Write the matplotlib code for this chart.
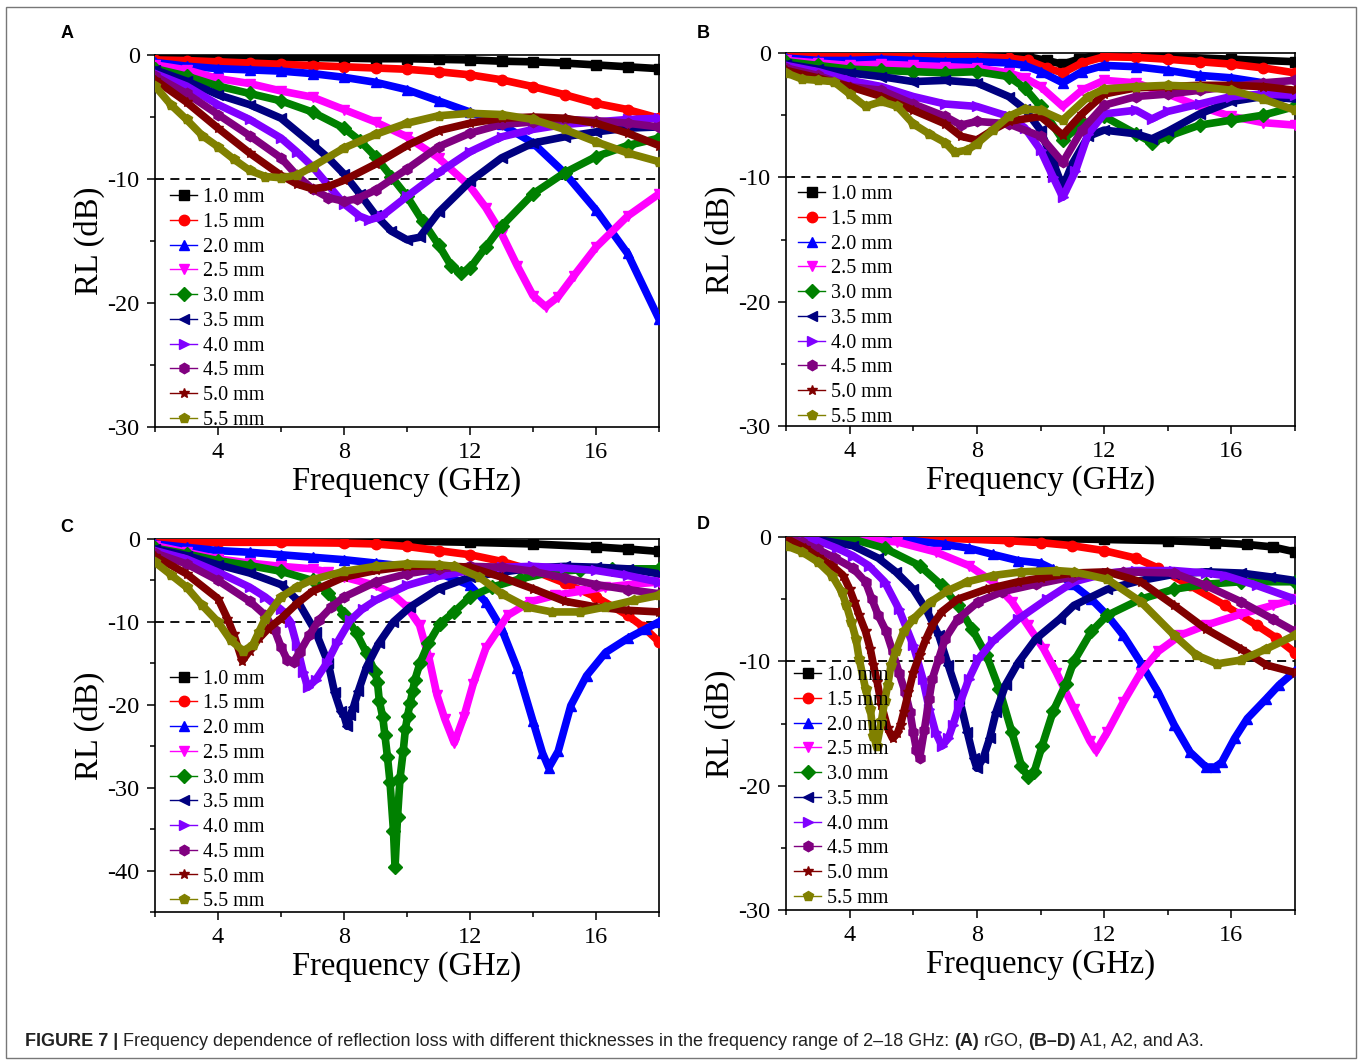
import matplotlib
matplotlib.use("Agg")
import matplotlib.pyplot as plt
from matplotlib.lines import Line2D
from matplotlib.patches import Rectangle

# thickness labels (same for every panel)
thickness = ["1.0 mm", "1.5 mm", "2.0 mm", "2.5 mm", "3.0 mm",
             "3.5 mm", "4.0 mm", "4.5 mm", "5.0 mm", "5.5 mm"]

# (frequency in GHz, RL in dB), one list per thickness
rgo = [
    [(2, -0.1), (3, -0.1), (4, -0.15), (5, -0.2), (6, -0.2), (7, -0.2), (8, -0.25), (9, -0.3), (10, -0.3),
     (11, -0.35), (12, -0.4), (13, -0.5), (14, -0.55), (15, -0.65), (16, -0.8), (17, -0.95), (18, -1.1)],
    [(2, -0.4), (3, -0.45), (4, -0.55), (5, -0.65), (6, -0.75), (7, -0.85), (8, -0.95), (9, -1.05), (10, -1.15),
     (11, -1.35), (12, -1.6), (13, -2.0), (14, -2.55), (15, -3.2), (16, -3.9), (17, -4.4), (18, -5.1)],
    [(2, -0.6), (3, -0.9), (4, -1.1), (5, -1.2), (6, -1.3), (7, -1.5), (8, -1.8), (9, -2.2), (10, -2.8),
     (11, -3.7), (12, -4.6), (13, -5.6), (14, -7.1), (15, -9.5), (16, -12.5), (17, -16.0), (18, -21.3)],
    [(2, -0.8), (3, -1.2), (4, -1.9), (5, -2.3), (6, -2.9), (7, -3.4), (8, -4.4), (9, -5.4), (10, -6.6),
     (11, -8.3), (12, -10.6), (12.5, -12.3), (13, -14.4), (13.5, -17.0), (14, -19.4), (14.4, -20.3),
     (14.8, -19.5), (15.3, -17.8), (16, -15.5), (17, -13.0), (18, -11.2)],
    [(2, -1.1), (3, -1.7), (4, -2.5), (5, -3.1), (6, -3.7), (7, -4.6), (8, -5.9), (8.5, -6.9), (9, -8.2),
     (9.5, -9.8), (10, -11.4), (10.5, -13.4), (11, -15.3), (11.4, -17.0), (11.7, -17.6), (12, -17.2),
     (12.5, -15.5), (13, -13.8), (14, -11.2), (15, -9.5), (16, -8.2), (17, -7.3), (18, -6.7)],
    [(2, -1.2), (3, -2.1), (4, -3.2), (5, -4.0), (6, -5.1), (7, -7.2), (7.5, -8.3), (8, -9.6), (8.5, -11.2),
     (9, -12.9), (9.5, -14.2), (10, -14.9), (10.4, -14.7), (11, -12.7), (12, -10.2), (13, -8.3), (14, -7.1),
     (15, -6.6), (16, -6.2), (17, -5.9), (18, -5.8)],
    [(2, -1.5), (3, -2.5), (4, -4.0), (5, -5.2), (6, -6.7), (6.5, -7.8), (7, -9.0), (7.5, -10.5), (8, -12.0),
     (8.5, -13.0), (8.8, -13.3), (9.2, -13.0), (10, -11.4), (11, -9.5), (12, -7.8), (13, -6.6), (14, -6.0),
     (15, -5.6), (16, -5.4), (17, -5.2), (18, -5.1)],
    [(2, -1.7), (3, -3.1), (4, -4.8), (5, -6.5), (6, -8.3), (6.5, -9.7), (7, -10.8), (7.5, -11.5), (8, -11.8),
     (8.4, -11.6), (9, -10.9), (10, -9.2), (11, -7.4), (12, -6.3), (13, -5.6), (14, -5.4), (15, -5.2),
     (16, -5.3), (17, -5.5), (18, -5.8)],
    [(2, -2.0), (3, -3.8), (4, -5.9), (5, -7.9), (6, -9.7), (6.5, -10.4), (7, -10.8), (7.5, -10.6), (8, -10.1),
     (9, -8.8), (10, -7.3), (11, -6.1), (12, -5.5), (13, -5.1), (14, -5.0), (15, -5.1), (16, -5.5), (17, -6.3),
     (18, -7.3)],
    [(2, -2.5), (2.5, -4.0), (3, -5.2), (3.5, -6.5), (4, -7.4), (4.5, -8.4), (5, -9.3), (5.5, -9.8), (6, -9.9),
     (6.5, -9.7), (7, -9.0), (8, -7.5), (9, -6.4), (10, -5.5), (11, -4.9), (12, -4.7), (13, -4.8), (14, -5.2),
     (15, -6.0), (16, -7.0), (17, -7.9), (18, -8.6)],
]

a1 = [
    [(2, -0.1), (4, -0.1), (6, -0.1), (8, -0.15), (9, -0.2), (9.6, -0.3), (10.2, -0.6), (10.7, -0.9),
     (11.2, -0.5), (11.8, -0.15), (13, -0.2), (14, -0.3), (16, -0.5), (18, -0.7)],
    [(2, -0.3), (4, -0.3), (6, -0.25), (8, -0.3), (9, -0.4), (9.6, -0.6), (10.2, -1.2), (10.7, -1.6),
     (11.3, -0.8), (12, -0.3), (13, -0.35), (14, -0.5), (15, -0.7), (16, -0.9), (17, -1.2), (18, -1.6)],
    [(2, -0.4), (3, -0.6), (4, -0.6), (5, -0.5), (6, -0.6), (7, -0.7), (8, -0.7), (9, -0.8), (9.5, -1.0),
     (10, -1.5), (10.7, -2.4), (11.3, -1.5), (12, -1.0), (13, -1.1), (14, -1.4), (15, -1.8), (16, -2.0),
     (17, -2.4), (18, -3.2)],
    [(2, -0.6), (3, -0.8), (4, -1.0), (5, -0.9), (6, -1.0), (7, -1.1), (8, -1.2), (9, -1.6), (9.5, -2.0),
     (10, -2.7), (10.7, -4.3), (11.3, -3.0), (12, -2.2), (13, -2.4), (14, -3.3), (15, -4.3), (16, -5.1),
     (17, -5.6), (18, -5.8)],
    [(2, -0.7), (3, -1.0), (4, -1.3), (5, -1.4), (6, -1.5), (7, -1.6), (8, -1.5), (9, -1.9), (9.5, -2.8),
     (10, -4.3), (10.7, -7.0), (11.3, -5.7), (12, -5.1), (13, -6.5), (13.5, -7.2), (14, -6.7), (15, -5.8),
     (16, -5.4), (17, -5.0), (18, -4.3)],
    [(2, -0.9), (3, -1.3), (4, -1.6), (5, -1.9), (6, -2.3), (7, -2.2), (8, -2.4), (9, -3.5), (9.5, -4.5),
     (10, -6.2), (10.4, -8.8), (10.7, -10.8), (11, -8.9), (11.5, -6.7), (12, -6.2), (13, -6.5), (13.5, -6.9),
     (14, -6.3), (15, -4.9), (16, -3.9), (17, -3.5), (18, -3.7)],
    [(2, -1.0), (3, -1.5), (4, -2.2), (5, -2.7), (6, -3.5), (7, -4.1), (8, -4.3), (9, -5.1), (9.5, -6.0),
     (10, -7.8), (10.4, -10.0), (10.7, -11.6), (11.1, -9.5), (11.5, -6.5), (12, -4.9), (13, -4.6),
     (13.5, -5.3), (14, -4.7), (15, -4.1), (16, -3.5), (17, -3.3), (18, -3.4)],
    [(2, -1.2), (3, -1.8), (4, -2.7), (5, -3.0), (6, -4.1), (7, -5.1), (7.5, -5.8), (8, -5.5), (9, -5.7),
     (10, -6.7), (10.7, -8.8), (11.3, -6.2), (12, -4.2), (13, -3.5), (14, -3.3), (15, -3.0), (16, -2.7),
     (17, -2.4), (18, -2.2)],
    [(2, -1.4), (3, -2.0), (4, -2.7), (5, -3.5), (6, -4.6), (7, -5.7), (7.5, -6.7), (8, -7.0), (8.5, -6.2),
     (9, -5.5), (10, -5.1), (10.7, -6.6), (11.3, -4.9), (12, -3.3), (13, -2.8), (14, -2.7), (15, -2.6),
     (16, -2.6), (17, -2.7), (18, -3.0)],
    [(2, -1.6), (2.5, -2.1), (3, -2.2), (3.5, -2.3), (4, -3.3), (4.5, -4.3), (5, -3.9), (5.5, -4.3), (6, -5.7),
     (6.5, -6.5), (7, -7.2), (7.3, -8.0), (7.7, -7.8), (8, -7.3), (8.5, -6.2), (9, -5.1), (9.5, -4.5),
     (10, -4.6), (10.7, -5.4), (11.5, -3.5), (12, -2.9), (13, -2.7), (14, -2.6), (15, -2.7), (16, -3.0),
     (17, -3.7), (18, -4.6)],
]

a2 = [
    [(2, -0.1), (4, -0.1), (6, -0.15), (8, -0.2), (10, -0.25), (12, -0.4), (14, -0.6), (16, -0.95),
     (17, -1.2), (18, -1.5)],
    [(2, -0.3), (4, -0.4), (6, -0.4), (8, -0.5), (9, -0.6), (10, -0.9), (11, -1.4), (12, -1.9), (13, -2.7),
     (14, -3.8), (15, -5.3), (16, -7.0), (17, -9.2), (17.5, -10.6), (18, -12.4)],
    [(2, -0.6), (3, -1.0), (4, -1.4), (5, -1.6), (6, -1.9), (7, -2.2), (8, -2.5), (9, -2.9), (10, -3.3),
     (11, -4.1), (12, -5.6), (12.5, -7.6), (13, -10.8), (13.5, -15.6), (14, -22.0), (14.3, -25.8),
     (14.5, -27.6), (14.8, -25.6), (15.2, -20.1), (15.7, -16.5), (16.3, -13.7), (17, -12.0), (17.6, -10.8),
     (18, -10.0)],
    [(2, -0.8), (3, -1.6), (4, -2.4), (5, -2.9), (6, -3.3), (7, -3.6), (7.5, -4.0), (8, -4.6), (9, -5.6),
     (9.5, -6.5), (10, -8.2), (10.4, -10.4), (10.7, -14.4), (10.95, -18.8), (11.2, -21.7), (11.5, -24.6),
     (11.8, -21.5), (12.1, -17.5), (12.5, -13.2), (13.2, -9.2), (13.9, -7.6), (14.7, -6.8), (15.5, -6.3),
     (16.3, -5.8), (17.3, -5.4), (18, -5.2)],
    [(2, -1.1), (3, -1.8), (4, -2.6), (5, -3.2), (6, -3.9), (7, -5.0), (7.5, -6.5), (8, -9.0), (8.4, -11.4),
     (8.72, -13.8), (8.98, -16.0), (9.06, -17.2), (9.12, -19.5), (9.23, -21.5), (9.3, -23.7), (9.38, -26.3),
     (9.46, -29.3), (9.57, -35.2), (9.62, -39.6), (9.7, -33.5), (9.78, -28.8), (9.88, -25.6), (9.95, -22.9),
     (10.02, -21.3), (10.1, -19.8), (10.18, -18.3), (10.25, -17.0), (10.41, -15.0), (10.68, -12.6),
     (11.05, -10.2), (11.5, -8.8), (12, -7.0), (12.7, -5.8), (13.6, -4.8), (14.6, -4.0), (15.5, -3.7),
     (16.5, -3.6), (18, -3.6)],
    [(2, -1.2), (3, -2.0), (4, -3.1), (5, -4.1), (6, -5.5), (6.5, -7.3), (7.1, -11.2), (7.5, -15.0),
     (7.7, -18.5), (7.9, -20.8), (8.0, -21.3), (8.1, -22.6), (8.2, -21.2), (8.3, -20.3), (8.46, -18.3),
     (8.72, -15.4), (9.1, -12.6), (9.57, -10.0), (10.1, -8.2), (11, -6.0), (12, -4.6), (13, -4.0), (14, -3.5),
     (15, -3.3), (16, -3.4), (17, -3.6), (18, -4.2)],
    [(2, -1.4), (3, -2.4), (4, -4.0), (5, -5.8), (5.5, -7.0), (6, -8.5), (6.3, -10.0), (6.5, -12.8),
     (6.7, -16.0), (6.85, -17.9), (7.1, -17.0), (7.45, -15.0), (7.77, -12.6), (8.2, -9.8), (8.6, -8.4),
     (9, -7.4), (10, -5.6), (11, -4.5), (12, -3.8), (13, -3.4), (14, -3.3), (15, -3.5), (16, -3.8),
     (17, -4.4), (18, -5.2)],
    [(2, -1.7), (3, -3.0), (4, -5.0), (5, -7.5), (5.5, -9.2), (5.8, -11.0), (6.0, -13.0), (6.2, -14.6),
     (6.4, -14.8), (6.6, -13.6), (6.9, -11.6), (7.2, -9.8), (7.6, -8.2), (8, -7.0), (9, -5.2), (10, -4.2),
     (11, -3.6), (12, -3.3), (13, -3.4), (14, -3.9), (15, -4.7), (16, -5.5), (17, -6.1), (18, -6.6)],
    [(2, -2.1), (3, -4.2), (4, -7.2), (4.3, -9.6), (4.5, -11.5), (4.77, -14.7), (5.0, -13.5), (5.3, -12.0),
     (5.6, -10.8), (6.0, -9.6), (6.5, -7.8), (7, -6.3), (8, -4.6), (9, -3.8), (10, -3.3), (11, -3.2),
     (12, -3.4), (13, -4.6), (14, -6.0), (15, -7.5), (16, -8.2), (17, -8.6), (18, -8.8)],
    [(2, -2.8), (2.5, -4.3), (3, -5.8), (3.5, -8.0), (4, -10.0), (4.4, -12.2), (4.8, -13.5), (5.1, -12.8),
     (5.3, -11.2), (5.5, -9.6), (6, -7.0), (6.5, -5.8), (7, -4.9), (8, -3.9), (9, -3.3), (10, -3.0),
     (11, -3.1), (11.5, -3.3), (12.3, -4.6), (13, -6.6), (13.8, -8.2), (14.6, -8.8), (15.5, -8.8),
     (16.3, -8.2), (17.2, -7.4), (18, -6.8)],
]

a3 = [
    [(2, 0.0), (6, -0.05), (10, -0.1), (12, -0.2), (14, -0.3), (15.5, -0.45), (16.5, -0.6), (17.3, -0.8),
     (18, -1.2)],
    [(2, 0.0), (5, -0.05), (7, -0.1), (9, -0.3), (10, -0.45), (11, -0.7), (12, -1.1), (13, -1.7),
     (13.7, -2.5), (14.7, -3.9), (15.8, -5.5), (16.8, -7.1), (17.4, -8.1), (18, -9.3)],
    [(2, 0.0), (4, -0.1), (5, -0.2), (6, -0.3), (7, -0.6), (7.75, -0.9), (8.5, -1.4), (9.3, -1.9),
     (10, -2.1), (10.4, -2.6), (11, -3.8), (11.6, -5.0), (12.1, -6.3), (12.6, -7.9), (13.15, -10.1),
     (13.7, -12.5), (14.2, -15.1), (14.7, -17.3), (15.2, -18.5), (15.5, -18.5), (15.7, -18.1), (16.1, -16.2),
     (16.5, -14.6), (17.1, -13.0), (17.5, -11.9), (18, -10.8)],
    [(2, 0.0), (4, -0.1), (5.5, -0.4), (6.7, -1.2), (7.75, -2.3), (8.5, -3.6), (9.1, -5.2), (9.6, -7.1),
     (10.1, -9.0), (10.5, -10.9), (11.05, -13.8), (11.55, -16.4), (11.75, -17.2), (12.1, -15.7),
     (12.6, -13.3), (13.15, -10.9), (13.7, -9.2), (14.4, -7.9), (15.2, -7.1), (16.3, -6.2), (17.3, -5.5),
     (18, -5.0)],
    [(2, 0.0), (4, -0.1), (5.1, -0.9), (6.2, -2.3), (6.9, -3.9), (7.4, -5.5), (7.85, -7.4), (8.3, -9.5),
     (8.7, -12.2), (9.1, -15.7), (9.4, -18.4), (9.6, -19.3), (9.8, -18.9), (10.05, -16.8), (10.4, -14.0),
     (10.8, -11.8), (11.05, -10.0), (11.6, -7.6), (12.1, -6.3), (13.15, -5.0), (14.2, -4.2), (15.2, -3.8),
     (16.3, -3.6), (18, -3.6)],
    [(2, 0.0), (3, -0.2), (4.1, -0.7), (4.9, -1.7), (5.45, -2.8), (6, -4.2), (6.4, -5.8), (6.8, -7.9),
     (7.1, -10.3), (7.45, -13.0), (7.7, -15.7), (7.9, -17.8), (8.0, -18.6), (8.2, -17.8), (8.4, -16.2),
     (8.6, -14.1), (8.9, -11.9), (9.3, -10.1), (9.85, -8.2), (10.6, -6.6), (11.05, -5.5), (12.1, -4.2),
     (13.15, -3.5), (14.2, -3.0), (15.2, -2.8), (16.3, -2.9), (17.2, -3.2), (18, -3.5)],
    [(2, 0.0), (3, -0.3), (3.6, -0.9), (4.1, -1.5), (4.6, -2.3), (5.1, -3.6), (5.55, -5.8), (6.0, -8.7),
     (6.3, -11.4), (6.5, -13.8), (6.7, -15.7), (6.9, -16.8), (7.1, -16.2), (7.25, -15.1), (7.45, -13.5),
     (7.75, -11.4), (8.05, -9.8), (8.5, -8.4), (9.3, -6.6), (10.2, -5.0), (11.05, -3.6), (12.1, -2.9),
     (13, -2.7), (14.2, -2.7), (15.2, -2.9), (15.8, -3.1), (16.8, -3.9), (18, -5.0)],
    [(2, -0.1), (2.5, -0.4), (3, -1.0), (3.55, -1.7), (4.1, -2.5), (4.5, -3.6), (4.7, -5.0), (4.9, -6.3),
     (5.15, -7.6), (5.35, -9.2), (5.55, -10.9), (5.75, -12.5), (5.9, -14.1), (6.0, -15.7), (6.1, -17.1),
     (6.2, -17.8), (6.35, -15.5), (6.5, -13.0), (6.6, -11.4), (6.8, -9.8), (7.0, -8.2), (7.4, -6.6),
     (8.05, -5.2), (8.8, -4.4), (9.85, -3.8), (11, -3.2), (12.6, -2.8), (14.2, -2.9), (15.2, -3.9),
     (16.3, -5.2), (17.3, -6.6), (18, -7.6)],
    [(2, -0.1), (2.6, -0.9), (3.0, -1.6), (3.45, -2.3), (3.8, -3.1), (4.0, -4.2), (4.15, -5.2), (4.3, -6.3),
     (4.5, -7.6), (4.65, -9.0), (4.75, -10.3), (4.87, -11.7), (5.0, -13.5), (5.2, -15.4), (5.35, -16.2),
     (5.5, -15.8), (5.6, -15.1), (5.7, -14.1), (5.85, -12.5), (6.0, -10.9), (6.2, -9.5), (6.4, -8.2),
     (6.6, -7.1), (6.9, -6.0), (7.4, -5.0), (8.3, -4.2), (9.3, -3.6), (10, -3.3), (11, -2.9), (12.1, -2.8),
     (13.15, -3.6), (14.2, -5.5), (15.2, -7.4), (16.3, -9.0), (17.1, -10.3), (18, -10.9)],
    [(2, -0.7), (2.5, -1.2), (3.0, -2.0), (3.45, -3.1), (3.75, -4.4), (3.9, -5.5), (4.05, -6.8), (4.2, -8.2),
     (4.3, -9.8), (4.5, -12.2), (4.65, -13.8), (4.75, -16.0), (4.85, -16.8), (5.0, -14.8), (5.1, -13.2),
     (5.2, -11.9), (5.3, -10.3), (5.45, -9.2), (5.7, -7.6), (6.0, -6.6), (6.55, -5.2), (7.1, -4.3),
     (7.7, -3.6), (8.5, -3.1), (9.4, -2.8), (10.5, -2.7), (11.05, -2.8), (12.1, -3.4), (13.15, -5.2),
     (14.2, -7.9), (14.9, -9.5), (15.55, -10.2), (16.3, -9.9), (17.1, -9.0), (18, -7.9)],
]

colors = ["#000000", "#ff0000", "#0000ff", "#ff00ff", "#008000",
          "#000080", "#8000ff", "#800080", "#800000", "#808000"]
markers = ["s", "o", "^", "v", "D", "<", ">", "h", "*", "p"]

plt.rcParams["font.family"] = ["Liberation Serif", "DejaVu Serif"]
plt.rcParams["axes.unicode_minus"] = False

W, H = 1363, 1062
fig = plt.figure(figsize=(W / 100, H / 100), dpi=100)


def px_rect(x0, y0, x1, y1):
    """axes rectangle from pixel corners (top-left origin)"""
    return [x0 / W, 1 - y1 / H, (x1 - x0) / W, (y1 - y0) / H]


panels = [
    ("A", rgo, px_rect(155, 55, 659, 427), -30, (0.03, 0.642), (67, 33)),
    ("B", a1, px_rect(786, 53, 1295, 426), -30, (0.024, 0.646), (703, 33)),
    ("C", a2, px_rect(155, 539, 659, 912), -45, (0.03, 0.650), (67, 527)),
    ("D", a3, px_rect(786, 537, 1295, 910), -30, (0.016, 0.654), (703, 525)),
]

for letter, curves, rect, ymin, leg_xy, lab_xy in panels:
    ax = fig.add_axes(rect)
    for pts, c, m in zip(curves, colors, markers):
        f = [p[0] for p in pts]
        rl = [p[1] for p in pts]
        ax.plot(f, rl, color=c, lw=5.5, marker=m, ms=7.5, mec=c,
                solid_joinstyle="round", zorder=3)
    ax.axhline(-10, color="k", ls=(0, (5, 3.5)), lw=1.3, zorder=2)

    ax.set_xlim(2, 18)
    ax.set_ylim(ymin, 0)
    ax.set_xticks([4, 8, 12, 16])
    ax.set_xticks([2, 6, 10, 14, 18], minor=True)
    ax.set_yticks(list(range(0, ymin - 1, -10)))
    ax.set_yticks(list(range(-5, ymin - 1, -10)), minor=True)
    ax.tick_params(which="both", direction="out", top=False, right=False, width=1.1,
                   labelsize=17.5, pad=5)
    ax.tick_params(which="major", length=6)
    ax.tick_params(which="minor", length=3.5)
    for s in ax.spines.values():
        s.set_linewidth(1.2)

    ax.set_xlabel("Frequency (GHz)", fontsize=23.5, labelpad=2)
    ax.set_ylabel("RL (dB)", fontsize=23.5, labelpad=2)

    handles = [Line2D([0], [0], color=c, lw=1, marker=m, ms=7.5, mec=c)
               for c, m in zip(colors, markers)]
    ax.legend(handles, thickness, loc="upper left", bbox_to_anchor=leg_xy, frameon=False,
              fontsize=14.5, handlelength=1.35, handletextpad=0.3, labelspacing=0.28,
              borderpad=0, borderaxespad=0)

    fig.text(lab_xy[0] / W, 1 - lab_xy[1] / H, letter, fontfamily="Liberation Sans",
             fontweight="bold", fontsize=13, ha="center", va="center")

# frame around the figure
fig.patches.append(Rectangle((6 / W, 1 - 1058 / H), (1356 - 6) / W, (1058 - 7) / H,
                             transform=fig.transFigure, fill=False, ec="#777777", lw=1))

# caption, written piece by piece so the bold parts line up
caption = [("FIGURE 7 |", True),
           (" Frequency dependence of reflection loss with different thicknesses in the frequency range of 2\u201318 GHz: ", False),
           ("(A)", True), (" rGO, ", False), ("(B\u2013D)", True), (" A1, A2, and A3.", False)]
fig.canvas.draw()
renderer = fig.canvas.get_renderer()
x = 25
for txt, bold in caption:
    t = fig.text(x / W, 1 - 1041 / H, txt, fontfamily="Liberation Sans", fontsize=13,
                 fontweight="bold" if bold else "normal", color="#222222", va="center")
    x = t.get_window_extent(renderer=renderer).x1

fig.savefig("out.png", dpi=100)
